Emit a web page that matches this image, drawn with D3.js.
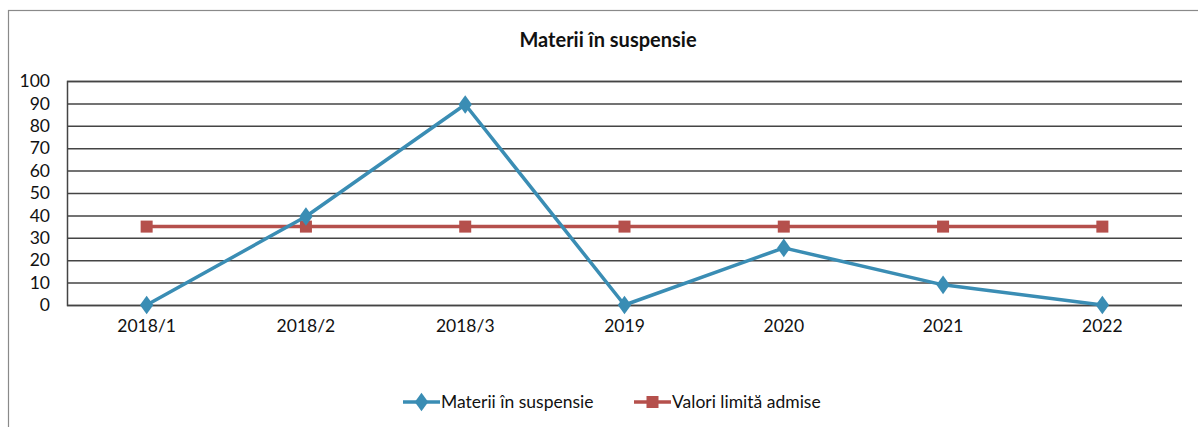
<!DOCTYPE html>
<html>
<head>
<meta charset="utf-8">
<script src="https://cdn.jsdelivr.net/npm/d3@7"></script>
<style>
  body { margin: 0; background: #fff; }
</style>
</head>
<body>
<div id="chart"></div>
<script>
// date
var categories = ["2018/1", "2018/2", "2018/3", "2019", "2020", "2021", "2022"];
var materii = [0, 39.5, 89.5, 0, 25.5, 9, 0];
var limita = [35, 35, 35, 35, 35, 35, 35];
var yTicks = [0, 10, 20, 30, 40, 50, 60, 70, 80, 90, 100];
var seriesNames = ["Materii în suspensie", "Valori limită admise"];

var W = 1198, H = 427;
var margin = { left: 67, top: 81, right: 16, bottom: 122 };

var blue = "#3a8db4";
var red = "#b5504c";
var font = "Lato, 'Open Sans', sans-serif";

const svg = d3.select("#chart")
  .append("svg")
  .attr("width", W)
  .attr("height", H)
  .attr("font-family", font);

// chenarul exterior
svg.append("rect")
  .attr("x", 8.5).attr("y", 10.5)
  .attr("width", W + 10).attr("height", H + 10)
  .attr("fill", "none")
  .attr("stroke", "#8a8a8a")
  .attr("stroke-width", 1.2);

var x = d3.scaleBand()
  .domain(categories)
  .range([margin.left, W - margin.right])
  .paddingInner(0)
  .paddingOuter(0);

var y = d3.scaleLinear()
  .domain([0, 100])
  .range([H - margin.bottom, margin.top]);

var cx = d => x(d) + x.bandwidth() / 2;

// titlu
svg.append("text")
  .attr("x", 608).attr("y", 47)
  .attr("text-anchor", "middle")
  .attr("font-size", 20)
  .attr("font-weight", "bold")
  .attr("fill", "#111")
  .text("Materii în suspensie");

// linii de grila + axa y
var yAxis = svg.append("g")
  .attr("transform", `translate(${margin.left},0)`)
  .call(d3.axisLeft(y).tickValues(yTicks).tickSize(-(W - margin.left - margin.right)).tickPadding(17))
  .call(g => g.select(".domain").attr("stroke", "#444").attr("stroke-width", 1.5));
yAxis.selectAll(".tick line").attr("stroke", "#444").attr("stroke-width", 1.5);
yAxis.selectAll(".tick text")
  .attr("font-size", 17.5)
  .attr("fill", "#111")
  .attr("font-family", font);

// axa x (doar etichete)
var xAxis = svg.append("g")
  .attr("transform", `translate(0,${H - margin.bottom})`)
  .call(d3.axisBottom(x).tickSize(0).tickPadding(15));
xAxis.select(".domain").remove();
xAxis.selectAll(".tick text")
  .attr("font-size", 17.5)
  .attr("fill", "#111")
  .attr("font-family", font);

var line = d3.line()
  .x((d, i) => cx(categories[i]))
  .y(d => y(d));

// serie rosie
svg.append("path")
  .datum(limita)
  .attr("d", line)
  .attr("fill", "none")
  .attr("stroke", red)
  .attr("stroke-width", 3.5);

svg.selectAll(".sq")
  .data(limita)
  .enter()
  .append("rect")
  .attr("class", "sq")
  .attr("x", (d, i) => cx(categories[i]) - 6)
  .attr("y", d => y(d) - 6)
  .attr("width", 12).attr("height", 12)
  .attr("fill", red);

// serie albastra
svg.append("path")
  .datum(materii)
  .attr("d", line)
  .attr("fill", "none")
  .attr("stroke", blue)
  .attr("stroke-width", 3.5)
  .attr("stroke-linejoin", "round");

var diamond = d3.symbol().type(d3.symbolDiamond).size(100);
svg.selectAll(".dm")
  .data(materii)
  .enter()
  .append("path")
  .attr("class", "dm")
  .attr("transform", (d, i) => `translate(${cx(categories[i])},${y(d)}) scale(1.25,1)`)
  .attr("d", diamond)
  .attr("fill", blue);

// legenda
var legendX = [403, 634];
var legend = svg.selectAll(".lg")
  .data(seriesNames)
  .enter()
  .append("g")
  .attr("class", "lg")
  .attr("transform", (d, i) => `translate(${legendX[i]},402)`);

legend.append("line")
  .attr("x1", 0).attr("x2", 37)
  .attr("stroke", (d, i) => i == 0 ? blue : red)
  .attr("stroke-width", 3.5);

legend.each(function (d, i) {
  var g = d3.select(this);
  if (i == 0) {
    g.append("path").attr("transform", "translate(18.5,0) scale(1.25,1)").attr("d", diamond).attr("fill", blue);
  } else {
    g.append("rect").attr("x", 12.5).attr("y", -6).attr("width", 12).attr("height", 12).attr("fill", red);
  }
});

legend.append("text")
  .attr("x", 38)
  .attr("y", 6)
  .attr("font-size", 17.5)
  .attr("fill", "#111")
  .text(d => d);
</script>
</body>
</html>
